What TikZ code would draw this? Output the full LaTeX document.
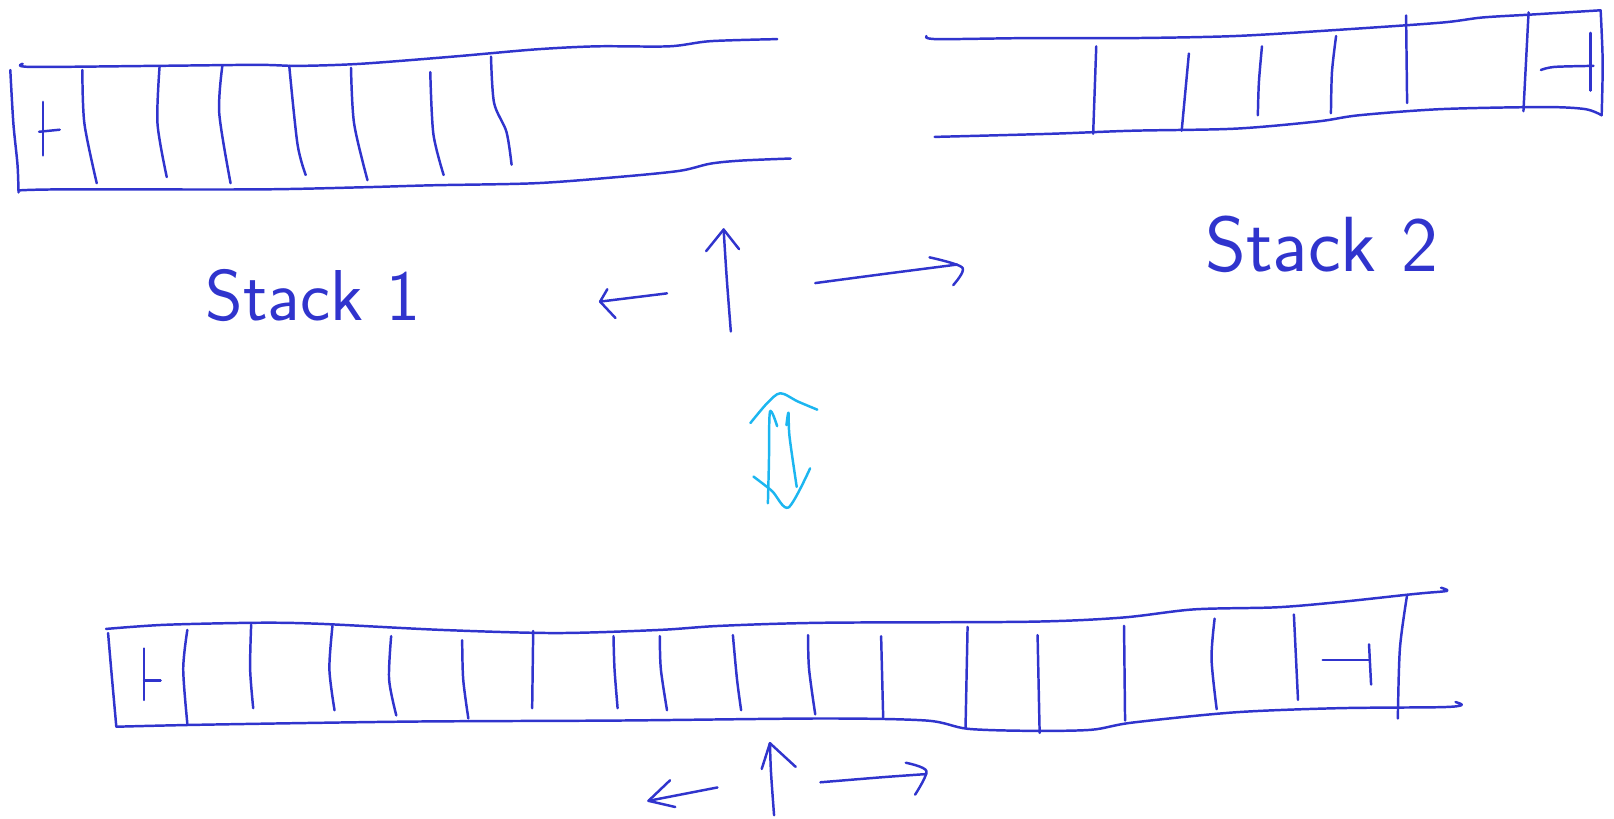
\documentclass[tikz,border=0pt]{standalone}
\usepackage{fontspec}
\definecolor{inkblue}{RGB}{48,52,205}
\definecolor{inkcyan}{RGB}{28,182,240}
\tikzset{
  ink/.style={draw=inkblue,line width=2.4pt,line cap=round,line join=round},
  cyanink/.style={draw=inkcyan,line width=2.4pt,line cap=round,line join=round},
  label/.style={text=inkblue,font=\sffamily\fontsize{70}{74}\selectfont,inner sep=0pt}
}
\begin{document}
\begin{tikzpicture}[x=1pt,y=-1pt]
\useasboundingbox (0,0) rectangle (1568,795);
% ---------- Stack 1 ----------
\draw[ink] plot[smooth,tension=0.5] coordinates {(22,62) (30,65) (150,64) (250,63) (290,64) (350,62) (440,55) (520,48) (580,45) (650,45) (690,40) (755,38)};
\draw[ink] plot[smooth,tension=0.5] coordinates {(10,68) (13,120) (17,160) (18,187)};
\draw[ink] plot[smooth,tension=0.5] coordinates {(18,185) (60,184) (250,184) (350,182) (420,180) (520,178) (600,172) (660,166) (690,159) (720,156) (768,154)};
\draw[ink] plot[smooth,tension=0.5] coordinates {(80,68) (82,120) (94,178)};
\draw[ink] plot[smooth,tension=0.5] coordinates {(155,65) (153,120) (162,172)};
\draw[ink] plot[smooth,tension=0.5] coordinates {(216,64) (213,110) (224,178)};
\draw[ink] plot[smooth,tension=0.5] coordinates {(281,64) (289,140) (297,170)};
\draw[ink] plot[smooth,tension=0.5] coordinates {(341,66) (344,120) (357,175)};
\draw[ink] plot[smooth,tension=0.5] coordinates {(418,70) (421,130) (431,170)};
\draw[ink] plot[smooth,tension=0.5] coordinates {(477,55) (480,100) (492,128) (497,160)};
\draw[ink] (42,99) -- (42,151);
\draw[ink] (38,128) -- (58,126);
\node[label] (s1) at (304,287) {Stack 1};
% ---------- Stack 2 ----------
\draw[ink] plot[smooth,tension=0.5] coordinates {(900,35) (910,38) (1000,37) (1100,37) (1200,35) (1300,29) (1400,22) (1440,17) (1490,14) (1555,10)};
\draw[ink] plot[smooth,tension=0.5] coordinates {(1555,10) (1557,60) (1556,112)};
\draw[ink] plot[smooth,tension=0.5] coordinates {(908,133) (1020,130) (1100,127) (1200,125) (1280,118) (1320,112) (1400,106) (1500,104) (1540,106) (1556,112)};
\draw[ink] (1065,45) -- (1062,130);
\draw[ink] (1155,52) -- (1148,127);
\draw[ink] plot[smooth,tension=0.5] coordinates {(1226,45) (1223,80) (1222,112)};
\draw[ink] plot[smooth,tension=0.5] coordinates {(1298,35) (1294,70) (1293,110)};
\draw[ink] (1366,15) -- (1367,100);
\draw[ink] (1485,12) -- (1480,108);
\draw[ink] (1545,32) -- (1545,88);
\draw[ink] plot[smooth,tension=0.5] coordinates {(1497,68) (1510,65) (1548,64)};
\node[label,font=\sffamily\fontsize{76}{80}\selectfont] (s2) at (1284,237) {Stack 2};
% ---------- arrows near top ----------
\coordinate (la) at (583,293);
\draw[ink] (648,285) -- (la);
\draw[ink] (590,281) -- (la) -- (598,309);
\coordinate (ua) at (703,223);
\draw[ink] plot[smooth,tension=0.5] coordinates {(710,322) (706,270) (ua)};
\draw[ink] (686,244) -- (ua) -- (718,242);
\draw[ink] plot[smooth,tension=0.5] coordinates {(792,275) (860,266) (930,257)};
\draw[ink] plot[smooth,tension=0.5] coordinates {(903,250) (935,260) (926,277)};
% ---------- cyan double arrow ----------
\draw[cyanink] plot[smooth,tension=0.5] coordinates {(729,411) (745,392) (758,382) (775,390) (794,398)};
\draw[cyanink] plot[smooth,tension=0.5] coordinates {(755,414) (748,400) (747,450) (746,489)};
\draw[cyanink] plot[smooth,tension=0.5] coordinates {(764,413) (766,401) (767,424) (774,473)};
\draw[cyanink] plot[smooth,tension=0.5] coordinates {(732,463) (750,477) (766,493) (787,455)};
% ---------- bottom stack ----------
\draw[ink] plot[smooth,tension=0.5] coordinates {(103,611) (160,607) (250,605) (310,606) (430,612) (540,615) (640,612) (700,608) (800,605) (1000,604) (1090,600) (1160,592) (1240,590) (1300,585) (1365,578) (1385,576) (1406,574) (1400,571)};
\draw[ink] plot[smooth,tension=0.5] coordinates {(105,615) (108,650) (113,706)};
\draw[ink] plot[smooth,tension=0.5] coordinates {(113,706) (200,704) (400,701) (600,700) (800,698) (900,700) (940,708) (1000,710) (1060,709) (1100,702) (1200,692) (1300,688) (1400,687) (1420,685) (1414,682)};
\draw[ink] plot[smooth,tension=0.5] coordinates {(1367,578) (1360,630) (1358,698)};
\draw[ink] plot[smooth,tension=0.5] coordinates {(182,612) (178,650) (182,703)};
\draw[ink] plot[smooth,tension=0.5] coordinates {(244,607) (243,650) (246,688)};
\draw[ink] plot[smooth,tension=0.5] coordinates {(323,608) (320,650) (325,690)};
\draw[ink] plot[smooth,tension=0.5] coordinates {(380,618) (378,660) (385,695)};
\draw[ink] plot[smooth,tension=0.5] coordinates {(449,622) (450,660) (455,698)};
\draw[ink] (518,613) -- (517,688);
\draw[ink] plot[smooth,tension=0.5] coordinates {(596,618) (597,650) (600,688)};
\draw[ink] plot[smooth,tension=0.5] coordinates {(641,618) (642,650) (648,690)};
\draw[ink] plot[smooth,tension=0.5] coordinates {(712,617) (716,660) (720,690)};
\draw[ink] plot[smooth,tension=0.5] coordinates {(785,617) (786,650) (792,694)};
\draw[ink] (856,618) -- (858,697);
\draw[ink] (940,609) -- (938,707);
\draw[ink] (1008,617) -- (1010,712);
\draw[ink] (1092,608) -- (1093,700);
\draw[ink] plot[smooth,tension=0.5] coordinates {(1180,601) (1177,640) (1182,689)};
\draw[ink] (1257,597) -- (1261,680);
\draw[ink] (140,630) -- (140,680);
\draw[ink] (140,661) -- (156,661);
\draw[ink] (1330,626) -- (1332,665);
\draw[ink] (1285,641) -- (1330,641);
% ---------- arrows at bottom ----------
\coordinate (bua) at (748,722);
\draw[ink] plot[smooth,tension=0.5] coordinates {(752,792) (749,750) (bua)};
\draw[ink] (740,747) -- (bua) -- (773,745);
\coordinate (bla) at (630,778);
\draw[ink] (697,765) -- (bla);
\draw[ink] (651,758) -- (bla) -- (656,784);
\draw[ink] plot[smooth,tension=0.5] coordinates {(797,760) (858,755) (900,752)};
\draw[ink] plot[smooth,tension=0.5] coordinates {(880,741) (900,749) (889,772)};
\end{tikzpicture}
\end{document}
